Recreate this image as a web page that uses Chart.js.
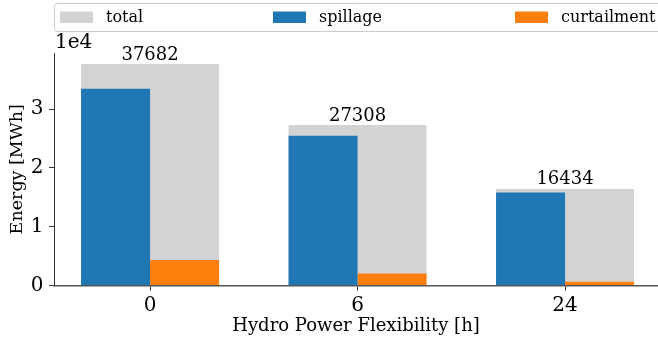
<!DOCTYPE html>
<html><head><meta charset="utf-8">
<script src="https://cdn.jsdelivr.net/npm/chart.js@4"></script>
<style>html,body{margin:0;padding:0;background:#fff;overflow:hidden}canvas{display:block}</style>
</head><body>
<canvas id="c" width="658" height="343"></canvas>
<script>
const categories = ["0", "6", "24"];
const totalValues = [37682, 27308, 16434];
const spillageValues = [33470, 25480, 15810];
const curtailmentValues = [4340, 2030, 650];
const yTickValues = [0, 10000, 20000, 30000];
const yTickLabels = ["0", "1", "2", "3"];
const offsetLabel = "1e4";
const seriesNames = ["total", "spillage", "curtailment"];
const seriesColors = ["#d3d3d3", "#1f77b4", "#ff7f0e"];
const xTitle = "Hydro Power Flexibility [h]";
const yTitle = "Energy [MWh]";

const FAM = '"DejaVu Serif", serif';
const toPts = arr => arr.map((v, i) => ({x: i, y: v}));

const overlay = {
  id: 'overlay',
  afterDraw(chart) {
    const ctx = chart.ctx, xs = chart.scales.x, ys = chart.scales.y;
    ctx.save();
    ctx.fillStyle = '#000';
    ctx.font = '18px ' + FAM;
    ctx.textAlign = 'center';
    ctx.textBaseline = 'alphabetic';
    totalValues.forEach((v, i) => ctx.fillText(String(v), xs.getPixelForValue(i), ys.getPixelForValue(v) - 4.5));
    ctx.font = '20px ' + FAM;
    ctx.textAlign = 'left';
    ctx.fillText(offsetLabel, chart.chartArea.left + 1, 48);
    // legend
    ctx.beginPath();
    ctx.roundRect(54.5, 3.5, 640, 28, 3);
    ctx.fillStyle = '#fff';
    ctx.fill();
    ctx.strokeStyle = '#cccccc';
    ctx.lineWidth = 1;
    ctx.stroke();
    const lx = [60, 273, 515];
    ctx.font = '16px ' + FAM;
    ctx.textBaseline = 'middle';
    chart.data.datasets.forEach((ds, i) => {
      ctx.fillStyle = ds.backgroundColor;
      ctx.fillRect(lx[i], 11.5, 33, 11.5);
      ctx.fillStyle = '#000';
      ctx.fillText(ds.label, lx[i] + 46, 17.5);
    });
    ctx.restore();
  }
};

new Chart(document.getElementById('c'), {
  type: 'bar',
  data: {
    datasets: [
      {label: seriesNames[0], data: toPts(totalValues), backgroundColor: seriesColors[0], order: 1, grouped: false, categoryPercentage: 0.665, barPercentage: 1},
      {label: seriesNames[1], data: toPts(spillageValues), backgroundColor: seriesColors[1], order: 0, categoryPercentage: 0.665, barPercentage: 1},
      {label: seriesNames[2], data: toPts(curtailmentValues), backgroundColor: seriesColors[2], order: 0, categoryPercentage: 0.665, barPercentage: 1}
    ]
  },
  options: {
    responsive: false,
    animation: false,
    devicePixelRatio: 1,
    layout: {padding: {top: 53, left: 0, right: 0, bottom: 0}},
    plugins: {legend: {display: false}, tooltip: {enabled: false}},
    scales: {
      x: {
        type: 'linear', min: -0.463, max: 2.448, bounds: 'data', offset: false, z: 1,
        afterBuildTicks: s => { s.ticks = categories.map((c, i) => ({value: i})); },
        afterFit: s => { s.height = 57.5; },
        grid: {display: true, offset: false, drawOnChartArea: false, drawTicks: true, tickLength: 5, color: '#333', lineWidth: 1},
        border: {display: true, color: '#555', width: 1.5},
        ticks: {font: {family: FAM, size: 20}, color: '#000', padding: 3, maxRotation: 0, autoSkip: false,
          callback: v => categories[Math.round(v)]},
        title: {display: true, text: xTitle, font: {family: FAM, size: 18}, color: '#000', padding: {top: 0, bottom: 5.5}}
      },
      y: {
        type: 'linear', min: 0, max: Math.max(...totalValues) * 1.05, bounds: 'data',
        afterBuildTicks: s => { s.ticks = yTickValues.map(v => ({value: v})); },
        afterFit: s => { s.width = 54; },
        grid: {display: true, drawOnChartArea: false, drawTicks: true, tickLength: 5, color: '#333', lineWidth: 1},
        border: {display: true, color: '#333', width: 1},
        ticks: {font: {family: FAM, size: 20}, color: '#000', padding: 5.5,
          callback: v => yTickLabels[yTickValues.indexOf(v)]},
        title: {display: true, text: yTitle, font: {family: FAM, size: 17.5}, color: '#000', padding: {top: 7, bottom: 0}}
      }
    }
  },
  plugins: [overlay]
});
</script>
</body></html>
